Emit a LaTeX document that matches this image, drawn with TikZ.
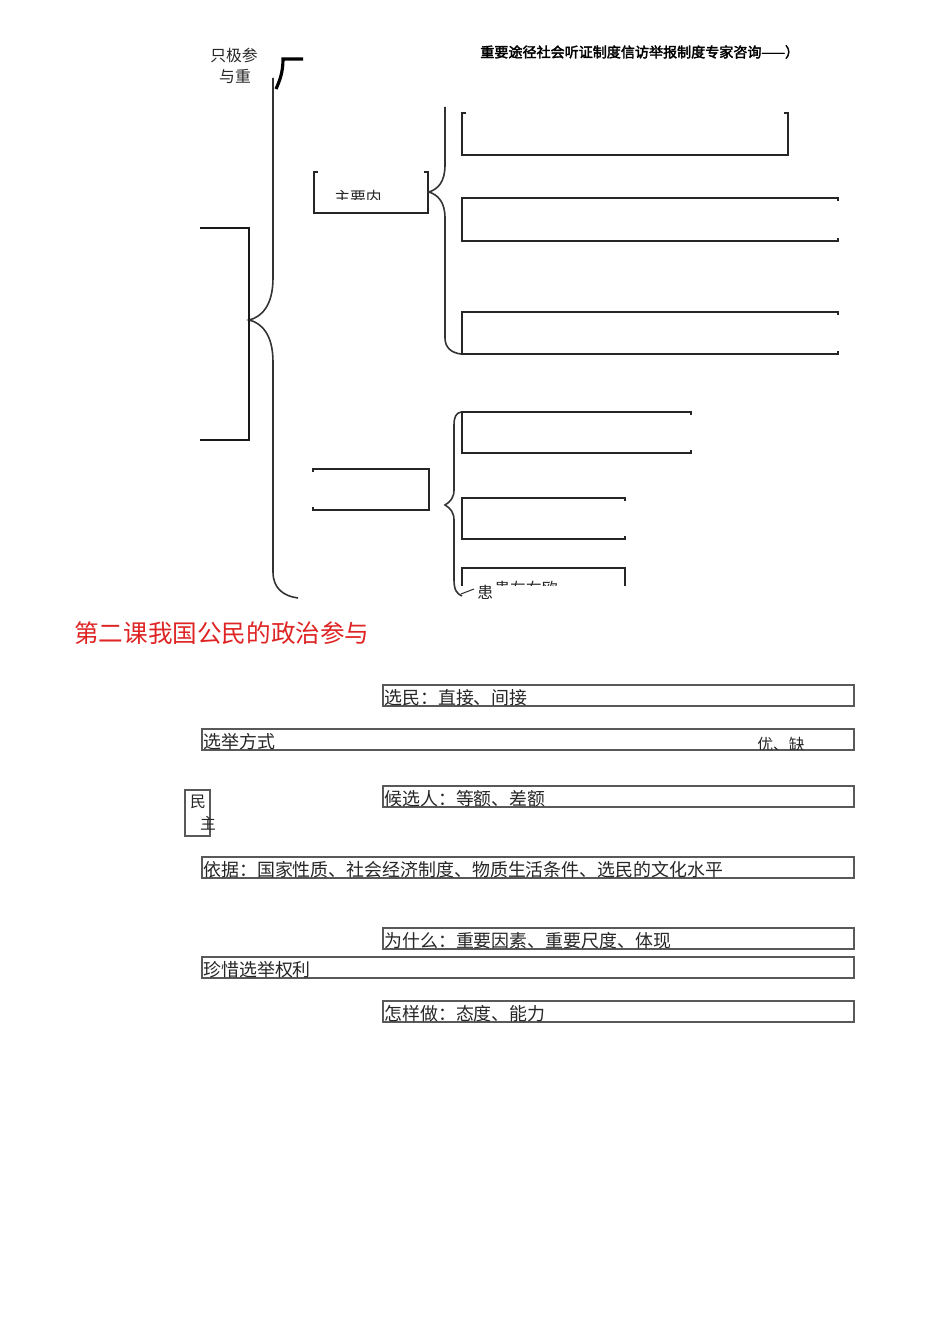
\documentclass[tikz,border=0pt]{standalone}
\usepackage{fontspec}
\setmainfont{Noto Sans CJK SC}
\newfontfamily\hdrfont[FakeBold=2.5]{Noto Sans CJK SC}
\usetikzlibrary{positioning}
\definecolor{titlered}{RGB}{222,36,36}

\begin{document}
\begin{tikzpicture}[x=0.02cm, y=-0.02cm,
  every node/.style={font=\fontsize{10.2}{12}\selectfont, inner sep=0pt, text=black!85},
  small/.style={font=\fontsize{9}{11}\selectfont},
  frame/.style={draw=black!65, line width=0.6pt},
  rule/.style={line width=1pt, black!85},
  heavy/.style={line width=1.3pt, black!90},
  brace/.style={line width=0.9pt, black!80}
]
\useasboundingbox (0,0) rectangle (950,1344);

% upper chart, cut off at the bottom
\begin{scope}
\clip (0,0) rectangle (950,598);
\node[anchor=west, font=\hdrfont\fontsize{8}{9}\selectfont, text=black] (hdr) at (480,52) {重要途径社会听证制度信访举报制度专家咨询——）};
\node[small] (yiji) at (234,55) {只极参};
\node[small] (yuzh) at (235,76) {与重};
\draw[line width=1.8pt] (303,59) -- (283,59) .. controls (283,72) and (280,80) .. (276,89);

% main brace and left bracket
\draw[brace] (273,78) -- (273,278) .. controls (273,305) and (262,317) .. (249,320)
  .. controls (262,323) and (273,335) .. (273,362) -- (273,572)
  .. controls (273,588) and (283,596) .. (298,598);
\draw[heavy] (200,228) -- (249,228) -- (249,440) -- (200,440);

% first branch
\draw[rule] (318,172) -- (314,172) -- (314,213) -- (428,213) -- (428,172) -- (424,172);
\begin{scope}
\clip (320,180) rectangle (420,200);
\node[small] (zhuyao) at (358,198) {主要内};
\end{scope}
\draw[brace] (445,107) -- (445,165) .. controls (445,182) and (438,189) .. (429,192)
  .. controls (438,195) and (445,202) .. (445,218) -- (445,338)
  .. controls (445,348) and (452,353) .. (461,354);
\draw[rule] (466,113) -- (462,113) -- (462,155) -- (788,155) -- (788,113) -- (784,113);
\foreach \t/\b/\r in {198/241/838, 312/354/838, 412/453/691, 498/539/625}
  \draw[rule] (\r,\t+3) -- (\r,\t) -- (462,\t) -- (462,\b) -- (\r,\b) -- (\r,\b-3);

% second branch
\draw[rule] (313,472) -- (313,469) -- (429,469) -- (429,510) -- (313,510) -- (313,507);
\draw[brace] (461,412) .. controls (456,413) and (454,417) .. (454,425) -- (454,490)
  .. controls (454,498) and (450,502) .. (445,505) .. controls (450,508) and (454,512) .. (454,520)
  -- (454,580) .. controls (454,590) and (457,594) .. (462,596);
\draw[rule] (462,586) -- (462,568) -- (625,568) -- (625,586);
\begin{scope}
\clip (470,578) rectangle (570,585);
\node[small, anchor=west] (huan) at (494,589) {患左右欧};
\end{scope}
\draw[brace, line width=0.6pt] (474,589) -- (461,594);
\node[small, anchor=north west] (huanb) at (477,585) {患};
\end{scope}

% lower chart
\node[anchor=west, font=\fontsize{14}{16}\selectfont, text=titlered] (title) at (74,633) {第二课我国公民的政治参与};

\foreach \x/\y/\nm/\txt in {383/685/voter/{选民：直接、间接},
    202/729/mode/{选举方式},
    383/786/cand/{候选人：等额、差额},
    202/857/basis/{依据：国家性质、社会经济制度、物质生活条件、选民的文化水平},
    383/928/why/{为什么：重要因素、重要尺度、体现},
    202/957/cherish/{珍惜选举权利},
    383/1001/how/{怎样做：态度、能力}}{
  \draw[frame] (\x,\y) rectangle (854,\y+21);
  \node[anchor=south west] (\nm) at (\x+1,\y+21) {\txt};
}
\begin{scope}
\clip (750,736) rectangle (820,749.5);
\node[small, anchor=north west] (youque) at (757,737) {优、缺};
\end{scope}

\draw[frame] (185,790) rectangle (210,836);
\node[small] (min) at (198,802) {民};
\node[small] (zhu) at (208,823) {主};
\end{tikzpicture}
\end{document}
